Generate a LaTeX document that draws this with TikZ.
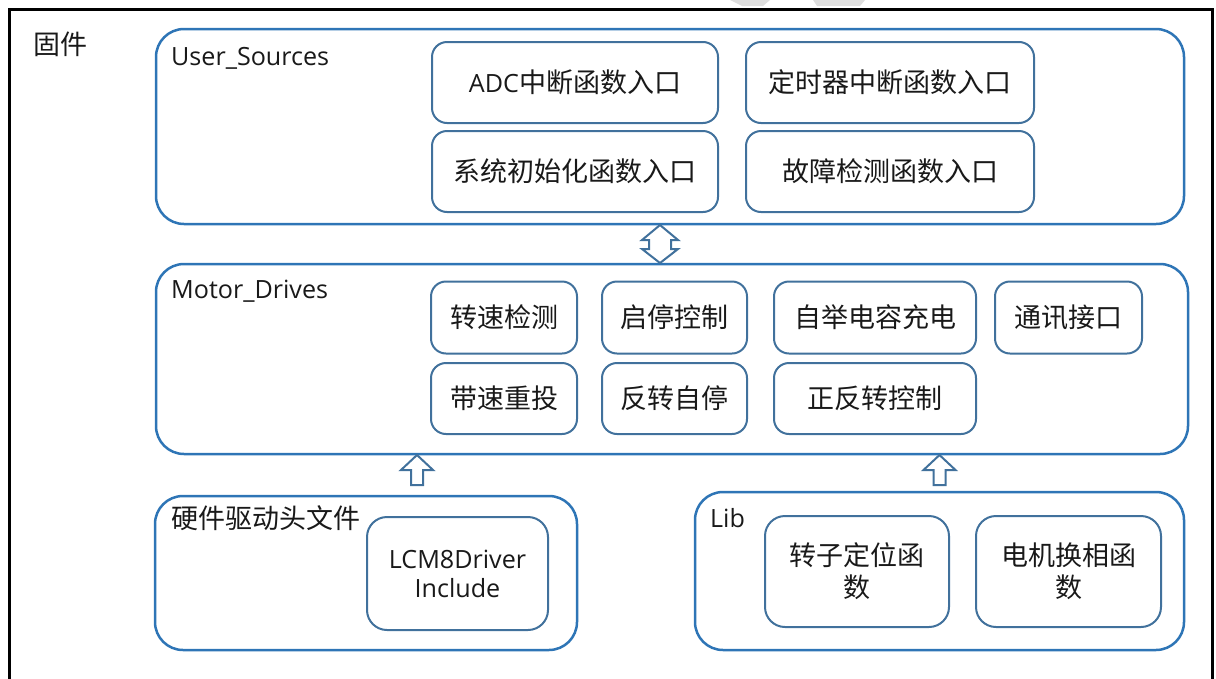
\documentclass[tikz,border=0pt]{standalone}
\usepackage{fontspec}
\setmainfont{Noto Sans CJK SC}
\newfontfamily\lat{Open Sans}[Scale=0.93]
\definecolor{blo}{RGB}{46,117,182}
\definecolor{bli}{RGB}{65,113,156}
\definecolor{tx}{RGB}{25,25,25}
\definecolor{wm}{RGB}{222,222,222}
\begin{document}
\begin{tikzpicture}[x=1pt,y=-1pt,
  big/.style={draw=blo,line width=2.5pt,rounded corners=28pt,rectangle,inner sep=0pt},
  box/.style={draw=bli,line width=2pt,rounded corners=15pt,rectangle,align=center,text=tx,inner sep=0pt,font=\fontsize{27}{32}\selectfont},
  lbl/.style={anchor=west,text=tx,inner sep=0pt,font=\fontsize{27}{32}\selectfont},
  barrow/.style={draw=bli,line width=2pt,fill=white,line join=miter}]
\useasboundingbox (0,0) rectangle (1216,678);
% watermark fragments
\fill[wm] (730,0) -- (770,0) -- (763,6) -- (742,6) -- cycle;
\fill[wm] (813,0) -- (865,0) -- (860,6) -- (817,6) -- cycle;
% outer frame
\draw[line width=3pt] (9.5,690) -- (9.5,9.5) -- (1212,9.5) -- (1212,690);
\node[lbl] (gj) at (33,44) {固件};

% User_Sources
\node[big,minimum width=1028,minimum height=195] (us) at (670,126.5) {};
\node[lbl] (usl) at (171,58) {\lat User\_Sources};
\node[box,minimum width=286,minimum height=81] (adc) at (575,82.5) {{\lat ADC}中断函数入口};
\node[box,minimum width=288,minimum height=81] (tim) at (890,82.5) {定时器中断函数入口};
\node[box,minimum width=286,minimum height=81] (sys) at (575,171.5) {系统初始化函数入口};
\node[box,minimum width=288,minimum height=81] (flt) at (890,171.5) {故障检测函数入口};

% Motor_Drives
\node[big,minimum width=1032,minimum height=190] (md) at (672,359) {};
\node[lbl] (mdl) at (171,291) {\lat Motor\_Drives};
\node[box,minimum width=146,minimum height=72] (zs) at (504,317.5) {转速检测};
\node[box,minimum width=145,minimum height=72] (qt) at (674.5,317.5) {启停控制};
\node[box,minimum width=202,minimum height=72] (zj) at (875,317.5) {自举电容充电};
\node[box,minimum width=147,minimum height=72] (tx) at (1068.5,317.5) {通讯接口};
\node[box,minimum width=146,minimum height=71] (ds) at (504,398.5) {带速重投};
\node[box,minimum width=145,minimum height=71] (fz) at (674.5,398.5) {反转自停};
\node[box,minimum width=202,minimum height=71] (zf) at (875,398.5) {正反转控制};

% hardware driver headers
\node[big,minimum width=422,minimum height=154] (hw) at (366,573) {};
\node[lbl] (hwl) at (171,518) {硬件驱动头文件};
\node[box,minimum width=181,minimum height=113,rounded corners=20pt,
      font=\fontsize{27}{29}\selectfont\lat] (lcm) at (457.5,573.5) {LCM8Driver\\Include};

% Lib
\node[big,minimum width=489,minimum height=158] (lib) at (939.5,571) {};
\node[lbl] (libl) at (710,518) {\lat Lib};
\node[box,minimum width=184,minimum height=111,rounded corners=20pt] (zz) at (857,571.5) {转子定位函\\数};
\node[box,minimum width=185,minimum height=111,rounded corners=20pt] (dj) at (1068.5,571.5) {电机换相函\\数};

% block arrows
\coordinate (d1) at (660,225);
\draw[barrow] (d1) -- ++(18,15) -- ++(-7,0) -- ++(0,9) -- ++(7,0) -- ++(-18,14)
  -- ++(-18,-14) -- ++(7,0) -- ++(0,-9) -- ++(-7,0) -- cycle;
\coordinate (u1) at (417,455);
\draw[barrow] (u1) -- ++(16,15) -- ++(-10,0) -- ++(0,15) -- ++(-12,0) -- ++(0,-15) -- ++(-10,0) -- cycle;
\coordinate (u2) at (939.5,455);
\draw[barrow] (u2) -- ++(16,15) -- ++(-10,0) -- ++(0,15) -- ++(-12,0) -- ++(0,-15) -- ++(-10,0) -- cycle;
\end{tikzpicture}
\end{document}
